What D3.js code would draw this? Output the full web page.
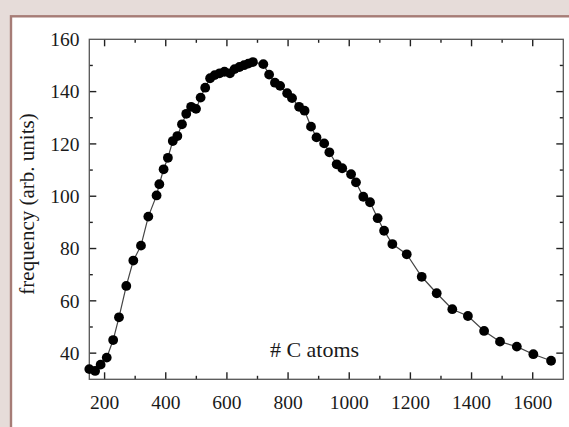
<!DOCTYPE html>
<html>
<head>
<meta charset="utf-8">
<script src="https://cdn.jsdelivr.net/npm/d3@7"></script>
<style>
  html, body { margin: 0; padding: 0; background: #e6dcd9; }
  svg { display: block; }
</style>
</head>
<body>
<div id="chart"></div>
<script>
// chart size
const width = 569,
  height = 427,
  margins = { top: 39.3, bottom: 47.7, left: 89.3, right: 5.7 };

// data: number of C atoms vs frequency
const cAtoms = [150, 169, 187, 207, 228, 247, 271, 294, 319, 343, 370, 379, 393, 407, 423, 438,
  453, 467, 483, 499, 514, 529, 545, 560, 576, 592, 610, 625, 641, 656, 670, 685, 719, 738,
  757, 774, 797, 813, 836, 854, 875, 893, 918, 935, 959, 977, 1006, 1022, 1046, 1068, 1093,
  1114, 1141, 1188, 1237, 1286, 1337, 1388, 1441, 1493, 1548, 1602, 1660];
const frequency = [33.9, 33.2, 35.6, 38.3, 45.0, 53.7, 65.7, 75.4, 81.1, 92.2, 100.3, 104.6,
  110.3, 114.7, 121.1, 123.0, 127.5, 131.5, 134.2, 133.4, 137.7, 141.5, 145.1, 146.3, 147.0,
  147.6, 147.0, 148.6, 149.4, 150.1, 150.7, 151.3, 150.5, 146.5, 143.4, 142.2, 139.4, 137.5,
  134.2, 132.7, 126.6, 122.5, 120.2, 116.8, 112.2, 110.7, 108.4, 105.3, 99.8, 97.7, 91.6,
  86.8, 81.7, 77.8, 69.2, 62.9, 56.8, 54.2, 48.5, 44.4, 42.5, 39.6, 37.1];

const xTicks = [200, 400, 600, 800, 1000, 1200, 1400, 1600];
const xMinor = [300, 500, 700, 900, 1100, 1300, 1500, 1700];
const yTicks = [40, 60, 80, 100, 120, 140, 160];
const yMinor = [50, 70, 90, 110, 130, 150];

const points = cAtoms.map((c, i) => ({ c: c, f: frequency[i] }));

const svg = d3.select("#chart")
  .append("svg")
  .attr("width", width)
  .attr("height", height);

// white panel with brown edge on top and left
svg.append("rect")
  .attr("x", 11)
  .attr("y", 16.3)
  .attr("width", width)
  .attr("height", height)
  .attr("fill", "#fff")
  .attr("stroke", "#a67c76")
  .attr("stroke-width", 2.4);

const xScale = d3.scaleLinear()
  .domain([150, 1700])
  .range([margins.left, width - margins.right]);

const yScale = d3.scaleLinear()
  .domain([30, 160])
  .range([height - margins.bottom, margins.top]);

const x0 = margins.left, x1 = width - margins.right,
  y0 = height - margins.bottom, y1 = margins.top;

const tickColor = "#222";

// inward ticks on all four sides
function drawTicks(vals, len, cls) {
  svg.selectAll(".xb" + cls).data(vals).join("line")
    .attr("class", "xb" + cls)
    .attr("x1", d => xScale(d)).attr("x2", d => xScale(d))
    .attr("y1", y0).attr("y2", y0 - len);
  svg.selectAll(".xt" + cls).data(vals).join("line")
    .attr("class", "xt" + cls)
    .attr("x1", d => xScale(d)).attr("x2", d => xScale(d))
    .attr("y1", y1).attr("y2", y1 + len);
}
function drawYTicks(vals, len, cls) {
  svg.selectAll(".yl" + cls).data(vals).join("line")
    .attr("class", "yl" + cls)
    .attr("y1", d => yScale(d)).attr("y2", d => yScale(d))
    .attr("x1", x0).attr("x2", x0 + len);
  svg.selectAll(".yr" + cls).data(vals).join("line")
    .attr("class", "yr" + cls)
    .attr("y1", d => yScale(d)).attr("y2", d => yScale(d))
    .attr("x1", x1).attr("x2", x1 - len);
}

drawTicks(xTicks.filter(d => d < 1700), 7, "maj");
drawTicks(xMinor.filter(d => d < 1700), 3.5, "min");
drawYTicks(yTicks.filter(d => d < 160), 7, "maj");
drawYTicks(yMinor, 3.5, "min");
svg.selectAll("line")
  .attr("stroke", tickColor)
  .attr("stroke-width", 1.4);

// frame
svg.append("rect")
  .attr("x", x0)
  .attr("y", y1)
  .attr("width", x1 - x0)
  .attr("height", y0 - y1)
  .attr("fill", "none")
  .attr("stroke", "#555")
  .attr("stroke-width", 1.3);

// tick labels
svg.selectAll(".xlab").data(xTicks).join("text")
  .attr("class", "xlab")
  .attr("x", d => xScale(d))
  .attr("y", 408.5)
  .attr("text-anchor", "middle")
  .style("font-family", "Liberation Serif, serif")
  .style("font-size", "19.5px")
  .attr("fill", "#1a1a1a")
  .text(d => d);

svg.selectAll(".ylab").data(yTicks).join("text")
  .attr("class", "ylab")
  .attr("x", 79.5)
  .attr("y", d => yScale(d) + 6.8)
  .attr("text-anchor", "end")
  .style("font-family", "Liberation Serif, serif")
  .style("font-size", "19.5px")
  .attr("fill", "#1a1a1a")
  .text(d => d);

// axis titles
svg.append("text")
  .attr("x", 314.5)
  .attr("y", 357.3)
  .attr("text-anchor", "middle")
  .style("font-family", "Liberation Serif, serif")
  .style("font-size", "22px")
  .attr("fill", "#1a1a1a")
  .text("# C atoms");

svg.append("text")
  .attr("transform", "translate(33.5,204)rotate(-90)")
  .attr("text-anchor", "middle")
  .style("font-family", "Liberation Serif, serif")
  .style("font-size", "21px")
  .attr("fill", "#1a1a1a")
  .text("frequency (arb. units)");

// line and dots
const line = d3.line()
  .x(d => xScale(d.c))
  .y(d => yScale(d.f));

svg.append("path")
  .datum(points)
  .attr("d", line)
  .attr("fill", "none")
  .attr("stroke", "#444")
  .attr("stroke-width", 1.2);

svg.selectAll(".dot")
  .data(points)
  .join("circle")
  .attr("class", "dot")
  .attr("cx", d => xScale(d.c))
  .attr("cy", d => yScale(d.f))
  .attr("r", 4.9)
  .attr("fill", "#000");
</script>
</body>
</html>
